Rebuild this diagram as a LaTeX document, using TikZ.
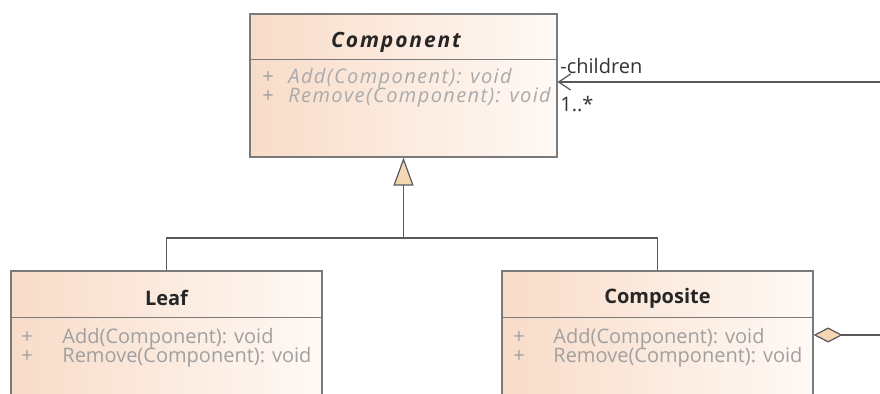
\documentclass[tikz,border=0pt]{standalone}
\usepackage{fontspec}
\setmainfont{Open Sans}
\newfontfamily\opwidefont{Open Sans}[LetterSpace=7]
\newfontfamily\namewidefont{Open Sans}[LetterSpace=9]
\usetikzlibrary{arrows.meta}
\definecolor{classpeach}{HTML}{F8DCC8}
\definecolor{classlight}{HTML}{FFF9F5}
\definecolor{classline}{HTML}{7A7A7A}
\definecolor{opgray}{HTML}{A0A0A0}
\definecolor{tipfill}{HTML}{F6D7B4}
\tikzset{
  classbox/.style={draw=classline, line width=0.6pt, left color=classpeach, right color=classlight, inner sep=0pt},
  classname/.style={font=\fontsize{10}{12}\selectfont\bfseries, text=black!85},
  opplus/.style={font=\fontsize{10}{12}\selectfont, text=opgray, anchor=west, inner sep=0pt},
  optext/.style={font=\fontsize{10}{12}\selectfont, text=opgray, anchor=west, inner sep=0pt},
  opital/.style={optext, font=\opwidefont\fontsize{10}{12}\selectfont\itshape, text=opgray!90},
  wire/.style={draw=black!65, line width=0.6pt},
  rolelabel/.style={font=\fontsize{10}{12}\selectfont, text=black!80, anchor=west, inner sep=0pt},
}
\begin{document}
\begin{tikzpicture}[x=0.5pt, y=-0.5pt]
\useasboundingbox (0,0) rectangle (880,394);
\clip (0,0) rectangle (880,394);
% classes
\node[classbox, minimum width=153.5pt, minimum height=71.5pt] (comp) at (403.5,85.5){};
\node[classbox, minimum width=155.5pt, minimum height=75pt] (leaf) at (166.5,346){};
\node[classbox, minimum width=155.5pt, minimum height=75pt] (compo) at (657.5,346){};
\draw[classline, line width=0.6pt] ([yshift=-23pt]comp.north west) -- ([yshift=-23pt]comp.north east);
\draw[classline, line width=0.6pt] ([yshift=-23.5pt]leaf.north west) -- ([yshift=-23.5pt]leaf.north east);
\draw[classline, line width=0.6pt] ([yshift=-23.5pt]compo.north west) -- ([yshift=-23.5pt]compo.north east);
% Component
\node[classname, font=\namewidefont\fontsize{10.5}{12}\selectfont\bfseries\itshape] (comp-name) at (396,42){Component};
\node[opplus] (comp-p1) at (262,78){+};
\node[opital] (comp-add) at (288,78){Add(Component): void};
\node[opplus] (comp-p2) at (262,97){+};
\node[opital] (comp-rem) at (288,97){Remove(Component): void};
% Leaf
\node[classname] (leaf-name) at (166.5,298){Leaf};
\node[opplus] (leaf-p1) at (21,338){+};
\node[optext] (leaf-add) at (62,338){Add(Component): void};
\node[opplus] (leaf-p2) at (21,357){+};
\node[optext] (leaf-rem) at (62,357){Remove(Component): void};
% Composite
\node[classname] (compo-name) at (657.5,298){Composite};
\node[opplus] (compo-p1) at (513,338){+};
\node[optext] (compo-add) at (553,338){Add(Component): void};
\node[opplus] (compo-p2) at (513,357){+};
\node[optext] (compo-rem) at (553,357){Remove(Component): void};
% generalization
\coordinate (fork) at (403.5,238);
\draw[wire, -{Triangle[length=14pt, width=10pt, fill=tipfill]}] (leaf.north) |- (fork) -- (comp.south);
\draw[wire] (compo.north) |- (fork);
% aggregation children
\coordinate (agg-end) at (880,335);
\draw[wire, {Diamond[length=14.5pt, width=7.5pt, fill=tipfill]}-] (agg-end -| compo.east) -- (agg-end);
\coordinate (own-end) at (880,82);
\draw[wire, -{Straight Barb[length=6pt, width=8pt]}] (own-end) -- (own-end -| comp.east);
\node[rolelabel] (role) at (560,66){-children};
\node[rolelabel] (mult) at (560,104){1..*};
\end{tikzpicture}
\end{document}
